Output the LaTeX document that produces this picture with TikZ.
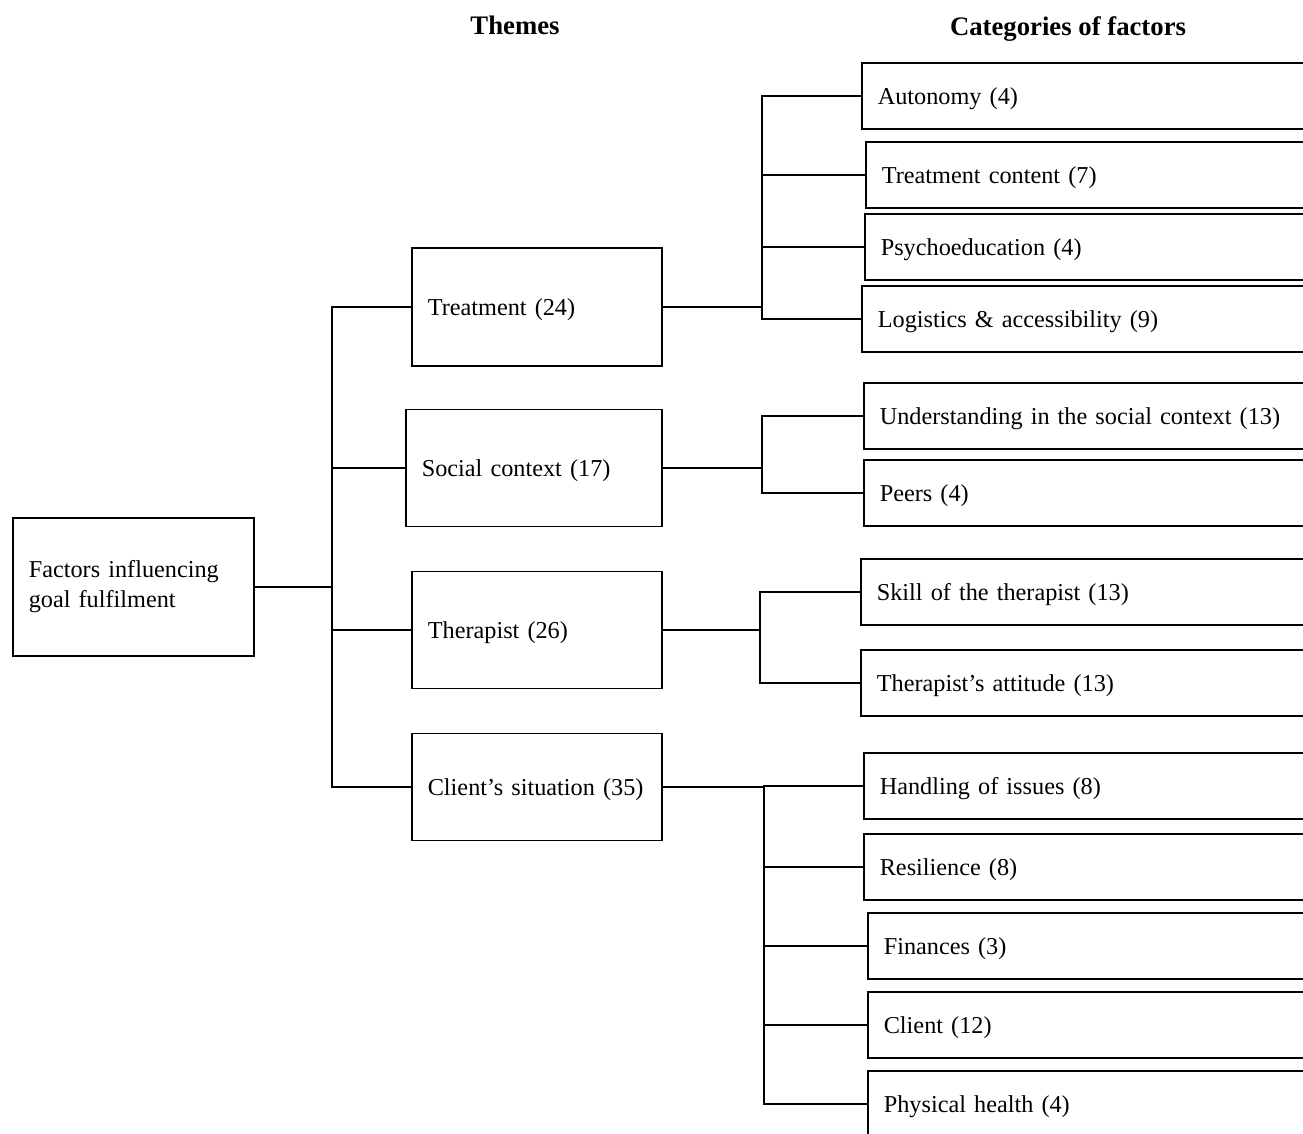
\documentclass[tikz,border=0pt]{standalone}
\usepackage{fontspec}
\setmainfont{Liberation Serif}
\tikzset{
  rootbox/.style={draw, line width=0.45pt, anchor=west, align=left, inner xsep=0.16cm,
    text width=2.09cm, minimum height=1.38cm, font=\fontsize{6.9}{8.5}\selectfont},
  themebox/.style={draw, line width=0.45pt, anchor=west, align=left, inner xsep=0.16cm,
    text width=2.18cm, minimum height=1.17cm, text depth=0pt, font=\fontsize{6.9}{8.5}\selectfont},
  catbox/.style={draw, line width=0.45pt, anchor=west, align=left, inner xsep=0.16cm,
    text width=4.68cm, minimum height=0.66cm, text depth=0pt, font=\fontsize{6.9}{8.5}\selectfont},
  header/.style={font=\bfseries\fontsize{7.6}{9}\selectfont},
  conn/.style={line width=0.45pt}
}
\begin{document}
\begin{tikzpicture}[x=0.01cm,y=-0.01cm]
    \useasboundingbox (0,0) rectangle (1303,1133);
    \clip (0,0) rectangle (1303,1133);
    %titoli
    \node[header] (hthemes) at (515,25) {Themes};
    \node[header] (hcat) at (1068,29) {Categories of factors};
    %radice
    \node[rootbox] (root) at (12,587) {Factors influencing\\goal fulfilment};
    %temi
    \node[themebox, minimum height=1.18cm] (treat) at (411,307) {Treatment (24)};
    \node[themebox, text width=2.24cm] (social) at (405,468) {Social context (17)};
    \node[themebox] (therap) at (411,630) {Therapist (26)};
    \node[themebox, minimum height=1.07cm] (client) at (411,787) {Client’s situation (35)};
    %categorie trattamento
    \node[catbox] (auton) at (861,96) {Autonomy (4)};
    \node[catbox] (content) at (865,175) {Treatment content (7)};
    \node[catbox] (psycho) at (864,247) {Psychoeducation (4)};
    \node[catbox] (logist) at (861,319) {Logistics \& accessibility (9)};
    %categorie contesto sociale
    \node[catbox] (underst) at (863,416) {Understanding in the social context (13)};
    \node[catbox] (peers) at (863,493) {Peers (4)};
    %categorie terapeuta
    \node[catbox] (skill) at (860,592) {Skill of the therapist (13)};
    \node[catbox] (attit) at (860,683) {Therapist’s attitude (13)};
    %categorie situazione
    \node[catbox] (handl) at (863,786) {Handling of issues (8)};
    \node[catbox] (resil) at (863,867) {Resilience (8)};
    \node[catbox] (finan) at (867,946) {Finances (3)};
    \node[catbox] (clnt) at (867,1025) {Client (12)};
    \node[catbox] (phys) at (867,1104) {Physical health (4)};
    %rami radice
    \coordinate (j0) at (332,587);
    \draw[conn] (root.east) -- (j0);
    \draw[conn] (j0) |- (treat.west);
    \draw[conn] (j0) |- (social.west);
    \draw[conn] (j0) |- (therap.west);
    \draw[conn] (j0) |- (client.west);
    %rami trattamento
    \coordinate (j1) at (762,307);
    \draw[conn] (treat.east) -- (j1);
    \draw[conn] (j1) |- (auton.west);
    \draw[conn] (j1) |- (content.west);
    \draw[conn] (j1) |- (psycho.west);
    \draw[conn] (j1) |- (logist.west);
    %rami contesto sociale
    \coordinate (j2) at (762,468);
    \draw[conn] (social.east) -- (j2);
    \draw[conn] (j2) |- (underst.west);
    \draw[conn] (j2) |- (peers.west);
    %rami terapeuta
    \coordinate (j3) at (760,630);
    \draw[conn] (therap.east) -- (j3);
    \draw[conn] (j3) |- (skill.west);
    \draw[conn] (j3) |- (attit.west);
    %rami situazione
    \coordinate (j4) at (764,787);
    \draw[conn] (client.east) -- (j4);
    \draw[conn] (j4) |- (handl.west);
    \draw[conn] (j4) |- (resil.west);
    \draw[conn] (j4) |- (finan.west);
    \draw[conn] (j4) |- (clnt.west);
    \draw[conn] (j4) |- (phys.west);
\end{tikzpicture}
\end{document}
